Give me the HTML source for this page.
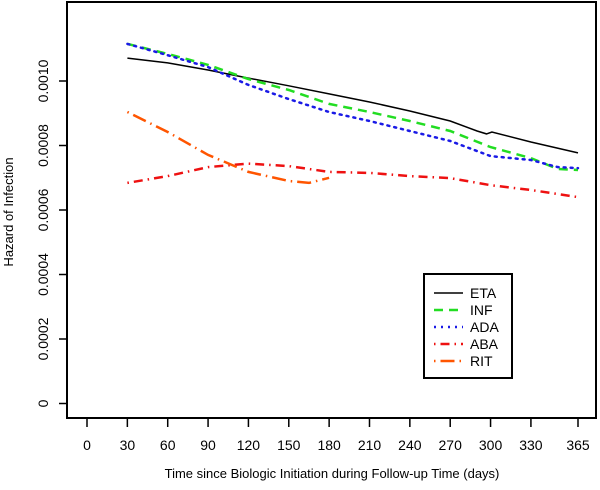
<!DOCTYPE html>
<html><head><meta charset="utf-8"><style>
html,body{margin:0;padding:0;background:#fff;}
svg{display:block;font-family:"Liberation Sans",Arial,sans-serif;}
</style></head><body>
<svg id="chart" width="600" height="490" viewBox="0 0 600 490">
<rect x="67" y="2" width="529" height="416" fill="none" stroke="#000" stroke-width="2"/>
<g id="yaxis"></g>
<g id="xaxis"></g>
<g id="series"></g>
<text x="13" y="212" transform="rotate(-90 13 212)" text-anchor="middle" font-size="13">Hazard of Infection</text>
<text x="332" y="478" text-anchor="middle" font-size="13">Time since Biologic Initiation during Follow-up Time (days)</text>
<g id="legend">
<rect x="424" y="274" width="88" height="104" fill="#fff" stroke="#000" stroke-width="2"/>
</g>
</svg>
<script>
const xTicks=[0,30,60,90,120,150,180,210,240,270,300,330,365];
const yTicks=[0,0.0002,0.0004,0.0006,0.0008,0.0010];
const yTickLabels=["0","0.0002","0.0004","0.0006","0.0008","0.0010"];
const etaDays=[30,60,90,120,150,180,210,240,270,290,297,301,330,365];
const etaVals=[0.001071,0.001056,0.001034,0.001009,0.000985,0.00096,0.000935,0.000907,0.000876,0.000845,0.000836,0.000842,0.000811,0.000777];
const infDays=[30,60,90,120,150,180,210,240,270,300,330,350,365];
const infVals=[0.001115,0.001084,0.00105,0.001006,0.000972,0.000929,0.000904,0.000876,0.000845,0.000795,0.000761,0.000727,0.000724];
const adaDays=[30,60,90,120,150,180,210,240,270,300,330,350,365];
const adaVals=[0.001115,0.00108,0.001043,0.000988,0.000944,0.000904,0.000876,0.000845,0.000814,0.000767,0.000755,0.000733,0.00073];
const abaDays=[30,60,90,120,150,180,210,240,270,300,330,365];
const abaVals=[0.000684,0.000705,0.000733,0.000744,0.000736,0.000718,0.000715,0.000705,0.000699,0.000677,0.000662,0.00064];
const ritDays=[30,60,90,120,150,165,180];
const ritVals=[0.000904,0.000842,0.000771,0.000718,0.00069,0.000684,0.0007];
const seriesNames=["ETA","INF","ADA","ABA","RIT"];

const NS="http://www.w3.org/2000/svg";
const X=d=>87+d*(578-87)/365;
const Y=v=>403.5-v*322500;
function mk(tag,attrs,parent){const e=document.createElementNS(NS,tag);for(const k in attrs)e.setAttribute(k,attrs[k]);parent.appendChild(e);return e;}
const ya=document.getElementById('yaxis'),xa=document.getElementById('xaxis'),sg=document.getElementById('series'),lg=document.getElementById('legend');
yTicks.forEach((v,i)=>{
 const t=mk('line',{x1:59,x2:67,y1:Y(v),y2:Y(v),stroke:'#000','stroke-width':1.5},ya);
 
 
 const tx=mk('text',{x:48,y:Y(v),'font-size':14,'text-anchor':'middle',transform:`rotate(-90 48 ${Y(v)})`},ya);
 tx.textContent=yTickLabels[i];
 
 
});
xTicks.forEach(d=>{
 const t=mk('line',{x1:X(d),x2:X(d),y1:418,y2:427,stroke:'#000','stroke-width':1.5},xa);
 
 
 const tx=mk('text',{x:X(d),y:450,'font-size':14,'text-anchor':'middle'},xa);
 tx.textContent=String(d);
 
 
});
const styles=[
 {c:'#000',dash:'',w:1.5},
 {c:'#22dd22',dash:'9 6',w:2.5},
 {c:'#1a1ae6',dash:'2 5',w:2.5},
 {c:'#ee1111',dash:'1.5 5 9 5',w:2.5},
 {c:'#ff5500',dash:'1.5 5 14 5',w:2.5}
];
const data=[[etaDays,etaVals],[infDays,infVals],[adaDays,adaVals],[abaDays,abaVals],[ritDays,ritVals]];
data.forEach((s,i)=>{
 const pts=s[0].map((d,j)=>X(d).toFixed(1)+','+Y(s[1][j]).toFixed(1)).join(' ');
 const p=mk('polyline',{points:pts,fill:'none',stroke:styles[i].c,'stroke-width':styles[i].w,'stroke-dasharray':styles[i].dash,'stroke-linecap':i==2?'round':'butt'},sg);
 
 
 const ly=293+i*17;
 const l=mk('line',{x1:434,x2:463,y1:ly,y2:ly,stroke:styles[i].c,'stroke-width':styles[i].w,'stroke-dasharray':styles[i].dash},lg);
 
 
 const t=mk('text',{x:470,y:ly+5,'font-size':14},lg);
 t.textContent=seriesNames[i];
 
 
});
</script>
</body></html>
